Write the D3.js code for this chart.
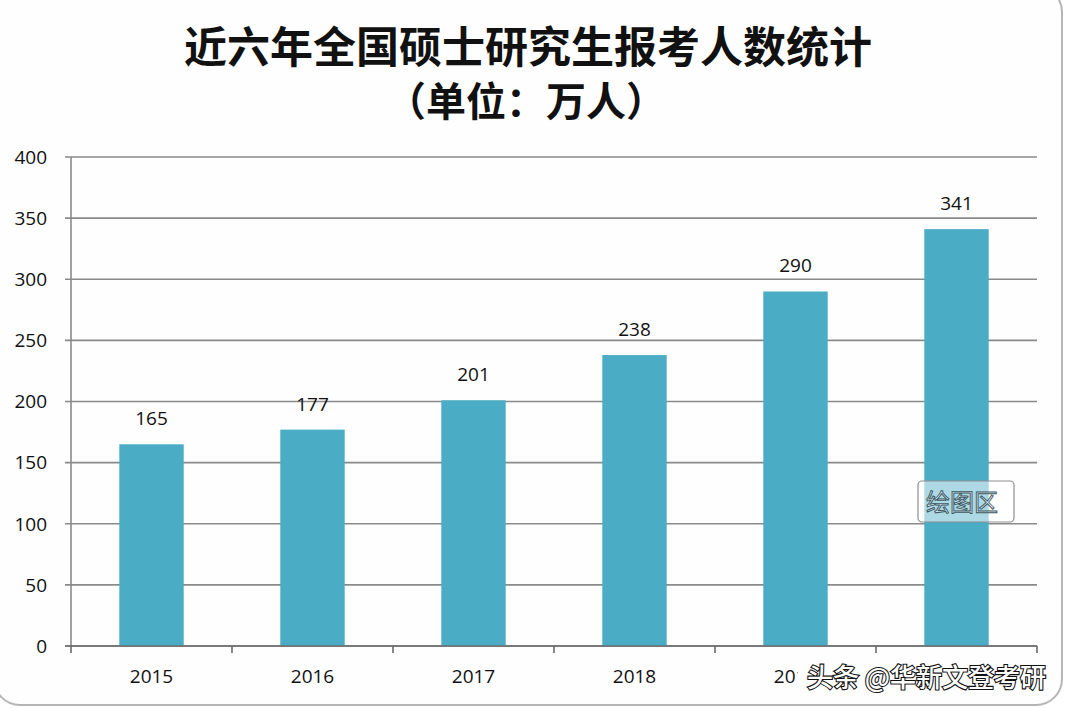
<!DOCTYPE html>
<html><head><meta charset="utf-8">
<script src="https://cdn.jsdelivr.net/npm/d3@7"></script>
<style>html,body{margin:0;padding:0;background:#fff;}</style>
</head><body>
<script>
const titleLines = ["近六年全国硕士研究生报考人数统计", "（单位：万人）"];
const years = ["2015", "2016", "2017", "2018", "2019", "2020"];
const applicants = [165, 177, 201, 238, 290, 341];
const yTicks = [0, 50, 100, 150, 200, 250, 300, 350, 400];
const watermark = "头条 @华新文登考研";
const tooltipText = "绘图区";

const W = 1068, H = 708;
const svg = d3.select("body").append("svg").attr("width", W).attr("height", H);

// outer frame
svg.append("rect").attr("x", -6).attr("y", -14).attr("width", 1068).attr("height", 719)
  .attr("rx", 26).attr("fill", "#fefefe").attr("stroke", "#b5b5b5").attr("stroke-width", 2);

const m = {left: 71, right: 1037, top: 157, bottom: 646};
const x = d3.scaleBand().domain(years).range([m.left, m.right]).padding(0);
const y = d3.scaleLinear().domain([0, 400]).range([m.bottom, m.top]);

// title
const tg = svg.append("g").attr("font-family", "'Noto Sans CJK SC'").attr("font-weight", 700)
  .attr("fill", "#111").attr("text-anchor", "middle");
tg.append("text").attr("x", 528).attr("y", 63).attr("font-size", 43).text(titleLines[0]);
tg.append("text").attr("x", 526).attr("y", 116).attr("font-size", 40).text(titleLines[1]);

// gridlines
svg.append("g").selectAll("line").data(yTicks).join("line")
  .attr("x1", m.left - 6).attr("x2", m.right)
  .attr("y1", d => y(d)).attr("y2", d => y(d))
  .attr("stroke", "#8a8a8a").attr("stroke-width", 1.6);

// y axis labels
svg.append("g").selectAll("text").data(yTicks).join("text")
  .attr("x", 47).attr("y", d => y(d)).attr("dy", "0.36em")
  .attr("text-anchor", "end").attr("font-family", "'Open Sans', sans-serif")
  .attr("font-size", 19).attr("fill", "#111").text(d => d);

// y axis line
svg.append("line").attr("x1", m.left).attr("x2", m.left).attr("y1", m.top).attr("y2", m.bottom + 1)
  .attr("stroke", "#8a8a8a").attr("stroke-width", 1.6);

// x axis tick marks
const bounds = years.map(d => x(d)).concat([m.right]);
svg.append("g").selectAll("line").data(bounds).join("line")
  .attr("x1", d => d).attr("x2", d => d).attr("y1", m.bottom).attr("y2", m.bottom + 7)
  .attr("stroke", "#6a6a6a").attr("stroke-width", 1.6);

// bars
const bw = x.bandwidth() * 0.4;
svg.append("g").selectAll("rect").data(applicants).join("rect")
  .attr("x", (d, i) => x(years[i]) + x.bandwidth() / 2 - bw / 2)
  .attr("y", d => y(d)).attr("width", bw).attr("height", d => y(0) - y(d))
  .attr("fill", "#4bacc6");

// x axis line (on top)
svg.append("line").attr("x1", m.left - 6).attr("x2", m.right).attr("y1", m.bottom).attr("y2", m.bottom)
  .attr("stroke", "#6a6a6a").attr("stroke-width", 1.6);

// value labels
svg.append("g").selectAll("text").data(applicants).join("text")
  .attr("x", (d, i) => x(years[i]) + x.bandwidth() / 2).attr("y", d => y(d) - 19)
  .attr("text-anchor", "middle").attr("font-family", "'Open Sans', sans-serif")
  .attr("font-size", 19).attr("fill", "#111").text(d => d);

// x labels
svg.append("g").selectAll("text").data(years).join("text")
  .attr("x", d => x(d) + x.bandwidth() / 2).attr("y", 683)
  .attr("text-anchor", "middle").attr("font-family", "'Open Sans', sans-serif")
  .attr("font-size", 19).attr("fill", "#111").text(d => d);

// tooltip box
const tipG = svg.append("g");
tipG.append("rect").attr("x", 918).attr("y", 481).attr("width", 96).attr("height", 41).attr("rx", 4)
  .attr("fill", "rgba(255,255,255,0.55)").attr("stroke", "#8d8d8d").attr("stroke-width", 1.2);
tipG.append("text").attr("x", 962).attr("y", 511).attr("text-anchor", "middle")
  .attr("font-family", "'Noto Sans CJK SC'").attr("font-size", 24)
  .attr("fill", "rgba(255,255,255,0.6)").attr("stroke", "#3a5560").attr("stroke-width", 0.9)
  .text(tooltipText);

// watermark (opaque backing as in the screenshot)
svg.append("rect").attr("x", 798).attr("y", 660).attr("width", 251).attr("height", 34)
  .attr("fill", "#fefefe");
svg.append("text").attr("x", 1046).attr("y", 687).attr("text-anchor", "end")
  .attr("font-family", "'Noto Sans CJK SC'").attr("font-size", 26).attr("font-weight", 500)
  .attr("fill", "#fff").attr("stroke", "#111").attr("stroke-width", 2.2)
  .attr("paint-order", "stroke").text(watermark);
</script>
</body></html>
